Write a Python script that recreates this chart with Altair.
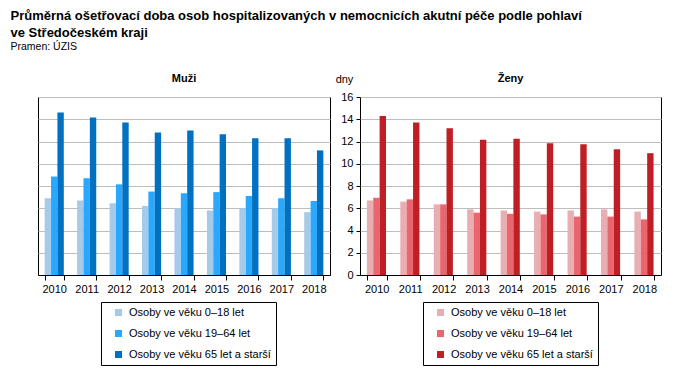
import altair as alt
import pandas as pd

years = ["2010", "2011", "2012", "2013", "2014", "2015", "2016", "2017", "2018"]
groups = ["Osoby ve věku 0–18 let", "Osoby ve věku 19–64 let", "Osoby ve věku 65 let a starší"]

muzi_0_18 = [6.9, 6.7, 6.45, 6.2, 6.0, 5.8, 6.0, 6.0, 5.65]
muzi_19_64 = [8.85, 8.7, 8.15, 7.5, 7.35, 7.45, 7.1, 6.9, 6.65]
muzi_65 = [14.6, 14.15, 13.7, 12.8, 13.0, 12.65, 12.3, 12.3, 11.2]

zeny_0_18 = [6.7, 6.6, 6.35, 5.9, 5.8, 5.7, 5.8, 5.9, 5.7]
zeny_19_64 = [6.95, 6.8, 6.35, 5.6, 5.5, 5.45, 5.25, 5.25, 5.0]
zeny_65 = [14.3, 13.7, 13.2, 12.15, 12.25, 11.85, 11.75, 11.3, 10.95]

blue_colors = ["#a6cbe8", "#2aa8ff", "#0070c0"]
red_colors = ["#e8aeb2", "#e8676e", "#be1e24"]

FONT = "Liberation Sans"


def make_df(series):
    rows = []
    for g, vals in zip(groups, series):
        for y, v in zip(years, vals):
            rows.append({"year": y, "group": g, "value": v})
    return pd.DataFrame(rows)


df_m = make_df([muzi_0_18, muzi_19_64, muzi_65])
df_z = make_df([zeny_0_18, zeny_19_64, zeny_65])


def panel(df, colors, title, width, show_y):
    common = dict(values=list(range(0, 17, 2)), grid=True, gridColor="#bdbdbd",
                  domain=False, title="dny", titleAngle=0, titleY=-18,
                  titleBaseline="middle",
                  titleFontWeight="normal", titleFontSize=11, titleColor="black")
    if show_y:
        yaxis = alt.Axis(labels=True, ticks=True, tickSize=4, tickColor="black",
                         labelPadding=3, labelFontSize=11, labelColor="black",
                         titleX=-16, titleAlign="center", **common)
    else:
        yaxis = alt.Axis(labels=False, ticks=False, titleOpacity=0,
                         titleX=2, titleAlign="left",
                         minExtent=0, maxExtent=0, **common)
    return alt.Chart(df).mark_bar().encode(
        x=alt.X("year:N", sort=years,
                scale=alt.Scale(paddingInner=0.41, paddingOuter=0.205),
                axis=alt.Axis(title=None, labelAngle=0, tickBand="extent", tickSize=5,
                              tickColor="black", domainColor="black", labelPadding=3,
                              labelFontSize=11, labelColor="black")),
        xOffset=alt.XOffset("group:N", sort=groups,
                            scale=alt.Scale(paddingInner=0, paddingOuter=0)),
        y=alt.Y("value:Q", scale=alt.Scale(domain=[0, 16], nice=False), axis=yaxis),
        color=alt.Color("group:N", sort=groups,
                        scale=alt.Scale(domain=groups, range=colors),
                        legend=alt.Legend(title=None, orient="none", legendX=63, legendY=205,
                                          direction="vertical", strokeColor="black",
                                          padding=5, symbolType="square", symbolSize=49,
                                          symbolStrokeWidth=0, symbolOffset=7,
                                          labelOffset=5, rowPadding=9,
                                          labelFontSize=11, labelColor="black")),
    ).properties(
        width=width, height=178,
        title=alt.TitleParams(title, fontSize=11, fontWeight="bold", offset=-11, color="black"),
    )


left = panel(df_m, blue_colors, "Muži", 292, False)
right = panel(df_z, red_colors, "Ženy", 301, True)

chart = alt.hconcat(left, right, spacing=30, bounds="flush").resolve_scale(
    color="independent"
).properties(
    title=alt.TitleParams(
        text=["Průměrná ošetřovací doba osob hospitalizovaných v nemocnicích akutní péče podle pohlaví",
              "ve Středočeském kraji"],
        subtitle="Pramen: ÚZIS",
        anchor="start", fontSize=13, fontWeight="bold", lineHeight=17, color="black",
        subtitleFontSize=10.5, subtitleColor="black", subtitlePadding=2,
        offset=20, dx=-27,
    ),
    padding={"left": 10, "top": 10, "right": 5, "bottom": 5},
).configure(font=FONT).configure_view(stroke="black", strokeWidth=1).configure_title(
    font=FONT, subtitleFont=FONT
)

chart.save("out.html", embed_options={"renderer": "svg", "actions": False})
